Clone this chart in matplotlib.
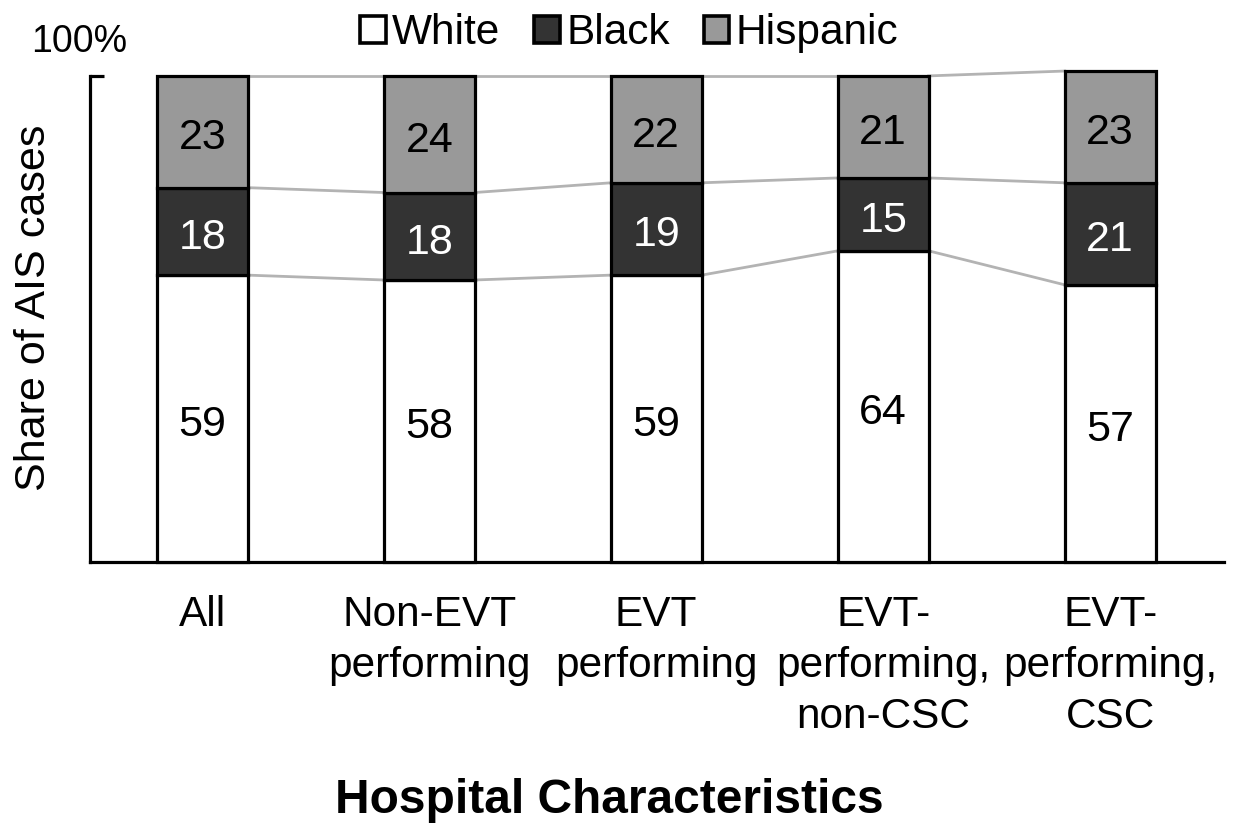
import matplotlib
matplotlib.use("Agg")
import matplotlib.pyplot as plt
from matplotlib.patches import Patch
import numpy as np

plt.rcParams['font.family'] = ['Liberation Sans', 'DejaVu Sans']

categories = ["All", "Non-EVT\nperforming", "EVT\nperforming",
              "EVT-\nperforming,\nnon-CSC", "EVT-\nperforming,\nCSC"]
white = [59, 58, 59, 64, 57]
black = [18, 18, 19, 15, 21]
hispanic = [23, 24, 22, 21, 23]

series = [("White", white, "#ffffff", "black"),
          ("Black", black, "#333333", "white"),
          ("Hispanic", hispanic, "#999999", "black")]

fig = plt.figure(figsize=(12.36, 8.25), dpi=100)
ax = fig.add_axes([0.0728, 0.319, 0.9172, 0.589])

x = np.arange(len(categories))
width = 0.4
bottom = np.zeros(len(categories))
boundaries = []
for name, vals, color, tcolor in series:
    vals = np.array(vals, dtype=float)
    ax.bar(x, vals, width, bottom=bottom, color=color, edgecolor="black",
           linewidth=2.3, zorder=3, clip_on=False)
    for xi, b, v in zip(x, bottom, vals):
        ax.text(xi, b + v / 2 - 1.3, f"{int(v)}", ha="center", va="center",
                fontsize=31, color=tcolor, zorder=4)
    bottom = bottom + vals
    boundaries.append(bottom.copy())

# series lines joining segment boundaries of neighbouring bars
for level in boundaries:
    for i in range(len(x) - 1):
        ax.plot([x[i] + width / 2, x[i + 1] - width / 2],
                [level[i], level[i + 1]], color="#b3b3b3", lw=2, zorder=2,
                clip_on=False)

ax.set_xlim(-0.495, 4.5)
ax.set_ylim(0, 100)
ax.spines["top"].set_visible(False)
ax.spines["right"].set_visible(False)
for s in ("left", "bottom"):
    ax.spines[s].set_linewidth(2.3)
ax.set_xticks(x)
ax.set_xticklabels(categories, fontsize=30.5, linespacing=1.36)
ax.tick_params(axis="x", length=0, pad=24)
ax.set_yticks([100])
ax.set_yticklabels([""])
ax.tick_params(axis="y", direction="in", length=10, width=2.3)
ax.set_ylabel("Share of AIS cases", fontsize=31)
ax.yaxis.set_label_coords(-0.032, 0.523)
ax.set_xlabel("Hospital Characteristics", fontsize=34.5, fontweight="bold")
ax.xaxis.set_label_coords(0.458, -0.445)

fig.text(0.025, 0.949, "100%", fontsize=27, ha="left", va="center")

handles = [Patch(facecolor=c, edgecolor="black", linewidth=2.6, label=n)
           for n, _, c, _ in series]
fig.legend(handles=handles, loc="upper center", bbox_to_anchor=(0.509, 1.03),
           ncol=3, frameon=False, fontsize=30.5, handlelength=0.6,
           handleheight=0.6, handletextpad=0.15, columnspacing=0.8)

fig.savefig("out.png", dpi=100)
